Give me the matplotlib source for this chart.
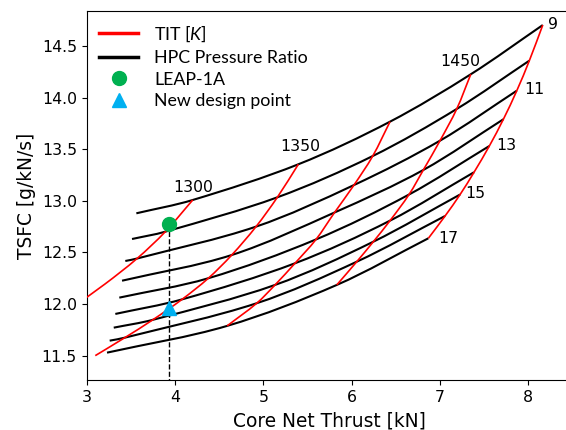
import numpy as np
import matplotlib
matplotlib.use("Agg")
import matplotlib.pyplot as plt
from matplotlib.lines import Line2D
from matplotlib.path import Path
from matplotlib.patches import PathPatch

# HPC pressure ratio (black lines) and turbine inlet temperature (red lines)
PR = [9, 10, 11, 12, 13, 14, 15, 16, 17]
TIT = [1300, 1350, 1400, 1450, 1500]

# core net thrust [kN] on each TIT line, one entry per pressure ratio
thrust = [
    [4.200, 3.890, 3.570, 3.207, 2.810, np.nan, np.nan, np.nan, np.nan],
    [5.396, 5.158, 4.917, 4.642, 4.377, 4.079, 3.748, 3.431, 3.097],
    [6.434, 6.238, 6.026, 5.806, 5.596, 5.358, 5.132, 4.925, 4.589],
    [7.348, 7.189, 7.000, 6.811, 6.649, 6.434, 6.245, 6.057, 5.831],
    [8.163, 8.011, 7.869, 7.717, 7.558, 7.385, 7.227, 7.057, 6.868],
]
# TSFC [g/kN/s] on each TIT line
tsfc = [
    [13.008, 12.701, 12.441, 12.194, 11.950, np.nan, np.nan, np.nan, np.nan],
    [13.354, 13.034, 12.750, 12.475, 12.250, 12.045, 11.847, 11.674, 11.500],
    [13.767, 13.434, 13.153, 12.887, 12.626, 12.395, 12.185, 12.008, 11.788],
    [14.226, 13.890, 13.583, 13.299, 13.061, 12.808, 12.604, 12.410, 12.185],
    [14.703, 14.358, 14.067, 13.790, 13.531, 13.277, 13.061, 12.853, 12.637],
]
# first point of every pressure ratio line
start_thrust = [3.562, 3.513, 3.437, 3.400, 3.369, 3.324, 3.306, 3.260, 3.230]
start_tsfc = [12.879, 12.630, 12.417, 12.226, 12.062, 11.904, 11.771, 11.645, 11.529]

leap_thrust, leap_tsfc = 3.928, 12.773
new_thrust, new_tsfc = 3.928, 11.959

tit_labels = [1300, 1350, 1450]
pr_labels = [9, 11, 13, 15, 17]

thrust = np.array(thrust)
tsfc = np.array(tsfc)


def smooth_line(ax, xs, ys, color, lw, zorder):
    # cubic bezier through the points, tangent taken from the neighbours
    pts = np.column_stack([xs, ys])
    n = len(pts)
    tang = []
    for k in range(n):
        a = pts[max(k - 1, 0)]
        b = pts[min(k + 1, n - 1)]
        d = b - a
        tang.append(d / np.hypot(*d))
    verts = [pts[0]]
    codes = [Path.MOVETO]
    for k in range(n - 1):
        seg = np.hypot(*(pts[k + 1] - pts[k])) / 3
        verts += [pts[k] + tang[k] * seg, pts[k + 1] - tang[k + 1] * seg, pts[k + 1]]
        codes += [Path.CURVE4] * 3
    ax.add_patch(PathPatch(Path(verts, codes), fill=False, edgecolor=color,
                           lw=lw, zorder=zorder, capstyle='butt'))


plt.rcParams['mathtext.fontset'] = 'custom'
plt.rcParams['mathtext.rm'] = 'Lato'
plt.rcParams['mathtext.it'] = 'Lato:italic'

fig = plt.figure(figsize=(5.66, 4.30), dpi=100)
ax = fig.add_axes([0.1532, 0.1163, 0.8716, 0.8581])
ax.spines['right'].set_visible(False)

# pressure ratio lines
for i in range(len(PR)):
    xs = [start_thrust[i]]
    ys = [start_tsfc[i]]
    for j in range(len(TIT)):
        if thrust[j, i] > start_thrust[i]:
            xs.append(thrust[j, i])
            ys.append(tsfc[j, i])
    smooth_line(ax, xs, ys, 'black', 1.5, 2)

# TIT lines
for j in range(len(TIT)):
    ok = ~np.isnan(thrust[j])
    smooth_line(ax, thrust[j][ok], tsfc[j][ok], 'red', 1.2, 3)

ax.plot([leap_thrust, leap_thrust], [leap_tsfc, 11.0], 'k--', lw=1.0, zorder=2)
ax.plot(leap_thrust, leap_tsfc, 'o', color='#00b050', ms=10, zorder=5)
ax.plot(new_thrust, new_tsfc, '^', color='#00b0f0', ms=10, zorder=5)

tit_offsets = [(0, 9), (1.2, 12.5), (-7.7, 8.9)]
for t, off in zip(tit_labels, tit_offsets):
    j = TIT.index(t)
    ax.annotate(str(t), (thrust[j, 0], tsfc[j, 0]), xytext=off,
                textcoords='offset points', ha='center', va='center',
                fontsize=11.3)

pr_offsets = [(3.6, 0.6), (5.3, 1.2), (5.3, 0.7), (3.6, 0.5), (7.2, 0)]
for p, off in zip(pr_labels, pr_offsets):
    i = PR.index(p)
    ax.annotate(str(p), (thrust[-1, i], tsfc[-1, i]), xytext=off,
                textcoords='offset points', ha='left', va='center',
                fontsize=11.3)

ax.set_xlim(3, 8.585)
ax.set_ylim(11.264, 14.839)
ax.set_xticks([3, 4, 5, 6, 7, 8])
ax.set_yticks([11.5, 12.0, 12.5, 13.0, 13.5, 14.0, 14.5])
ax.tick_params(labelsize=11.3)
ax.set_xlabel('Core Net Thrust [kN]', fontsize=13.4)
ax.set_ylabel('TSFC [g/kN/s]', fontsize=13.4)
# keep the x label centred on the visible part of the axis
ax.xaxis.set_label_coords((329 - 86.7) / (0.8716 * 566), -0.085)

handles = [
    Line2D([], [], color='red', lw=2.5),
    Line2D([], [], color='black', lw=2.5),
    Line2D([], [], marker='o', color='#00b050', ls='none', ms=10),
    Line2D([], [], marker='^', color='#00b0f0', ls='none', ms=10),
]
labels = ['TIT $\\mathit{[K]}$', 'HPC Pressure Ratio', 'LEAP-1A', 'New design point']
ax.legend(handles, labels, loc='upper left', frameon=False,
          prop={'family': 'Lato', 'size': 12.8}, handlelength=2.2,
          labelspacing=0.33, borderaxespad=0.3, handletextpad=0.9)

fig.savefig('out.png', dpi=100)
